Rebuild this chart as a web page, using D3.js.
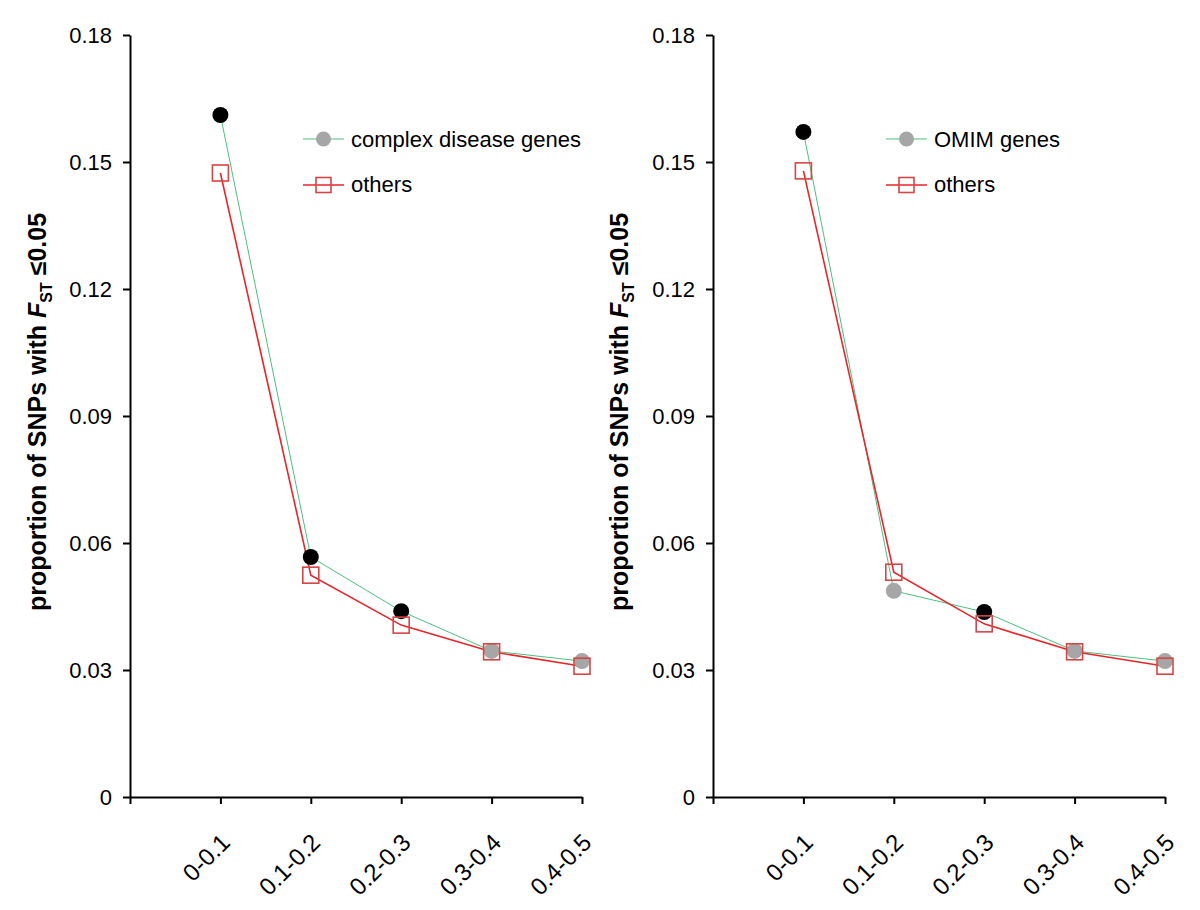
<!DOCTYPE html>
<html><head><meta charset="utf-8">
<script src="https://cdn.jsdelivr.net/npm/d3@7/dist/d3.min.js"></script>
<style>body{margin:0;background:#fff;} svg{display:block;} text{font-family:"Liberation Sans",Arial,sans-serif;}</style>
</head><body>
<svg id="c" width="1200" height="910"></svg>
<script>
const categories = ["0-0.1","0.1-0.2","0.2-0.3","0.3-0.4","0.4-0.5"];
const yTicks = [0,0.03,0.06,0.09,0.12,0.15,0.18];
const yTickLabels = ["0","0.03","0.06","0.09","0.12","0.15","0.18"];
// left panel
const complexValues = [0.1611,0.0567,0.0439,0.0345,0.0321];
const complexSignificant = [true,true,true,false,false];
const othersLeftValues = [0.1474,0.0524,0.0406,0.0343,0.0309];
// right panel
const omimValues = [0.1571,0.0487,0.0437,0.0345,0.0321];
const omimSignificant = [true,false,true,false,false];
const othersRightValues = [0.1479,0.0531,0.0409,0.0343,0.0309];
const panels = [
  {left:130, seriesName:"complex disease genes", main:complexValues, sig:complexSignificant, others:othersLeftValues, labelX:46},
  {left:713, seriesName:"OMIM genes", main:omimValues, sig:omimSignificant, others:othersRightValues, labelX:628}
];

const svg = d3.select("#c");
const plotTop = 35, plotBottom = 797, plotWidth = 452;
const y = d3.scaleLinear().domain([0,0.18]).range([plotBottom, plotTop]);

panels.forEach(p => {
  const g = svg.append("g").attr("transform", `translate(${p.left},0)`);
  const x = d3.scaleLinear().domain([0, categories.length]).range([0, plotWidth]);

  const ya = g.append("g").call(d3.axisLeft(y).tickValues(yTicks).tickFormat((d,i)=>yTickLabels[i]).tickSize(7).tickSizeOuter(0));
  ya.select(".domain").attr("stroke","#000").attr("stroke-width",2);
  ya.selectAll(".tick line").attr("stroke","#000").attr("stroke-width",2);
  ya.selectAll(".tick text").attr("font-size",22).attr("fill","#000").attr("x",-18).attr("font-family","Liberation Sans, Arial, sans-serif");

  const xa = g.append("g").attr("transform",`translate(0,${plotBottom})`)
    .call(d3.axisBottom(x).tickValues(d3.range(0,categories.length+1)).tickFormat("").tickSize(7).tickSizeOuter(0));
  xa.select(".domain").attr("stroke","#000").attr("stroke-width",2);
  xa.selectAll(".tick line").attr("stroke","#000").attr("stroke-width",2);

  categories.forEach((c,i)=>{
    const px = x(i+1);
    g.append("text").attr("text-anchor","end").attr("font-size",24).attr("fill","#000")
      .attr("transform",`translate(${px+11},${plotBottom+47}) rotate(-45)`).text(c);
  });

  const line = d3.line().x((d,i)=>x(i+1)).y(d=>y(d));
  g.append("path").datum(p.main).attr("d",line).attr("fill","none").attr("stroke","#4dbf80").attr("stroke-width",1);
  g.append("path").datum(p.others).attr("d",line).attr("fill","none").attr("stroke","#e8252a").attr("stroke-width",1.6);

  g.selectAll(".dot").data(p.main).enter().append("circle")
    .attr("cx",(d,i)=>x(i+1)).attr("cy",d=>y(d)).attr("r",8)
    .attr("fill",(d,i)=>p.sig[i]?"#000":"#a6a6a6");
  const s = 16;
  g.selectAll(".sq").data(p.others).enter().append("rect")
    .attr("x",(d,i)=>x(i+1)-s/2).attr("y",d=>y(d)-s/2).attr("width",s).attr("height",s)
    .attr("fill","none").attr("stroke","#d64545").attr("stroke-width",1.6);

  const lx = 173, l1 = 139, l2 = 185;
  g.append("line").attr("x1",lx).attr("x2",lx+41).attr("y1",l1).attr("y2",l1).attr("stroke","#4dbf80").attr("stroke-width",1);
  g.append("circle").attr("cx",lx+20.5).attr("cy",l1).attr("r",7.5).attr("fill","#a6a6a6");
  g.append("text").attr("x",lx+48).attr("y",l1+8).attr("font-size",22).attr("fill","#000").text(p.seriesName);
  g.append("line").attr("x1",lx).attr("x2",lx+41).attr("y1",l2).attr("y2",l2).attr("stroke","#e8252a").attr("stroke-width",1.6);
  g.append("rect").attr("x",lx+20.5-7.5).attr("y",l2-7.5).attr("width",15).attr("height",15).attr("fill","none").attr("stroke","#d64545").attr("stroke-width",1.6);
  g.append("text").attr("x",lx+48).attr("y",l2+7).attr("font-size",22).attr("fill","#000").text("others");

  const t = svg.append("text").attr("transform",`translate(${p.labelX},412) rotate(-90)`)
    .attr("text-anchor","middle").attr("font-size",25).attr("font-weight","bold").attr("fill","#000");
  t.append("tspan").text("proportion of SNPs with ");
  t.append("tspan").attr("font-style","italic").text("F");
  t.append("tspan").attr("font-size",16).attr("dy",6).text("ST");
  t.append("tspan").attr("dy",-6).text(" \u22640.05");
});
</script>
</body></html>
